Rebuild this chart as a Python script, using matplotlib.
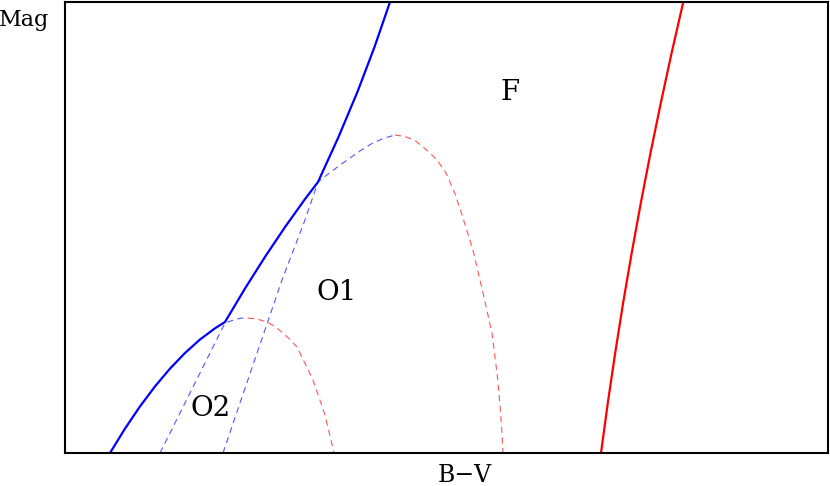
import matplotlib
matplotlib.use('Agg')
import matplotlib.pyplot as plt

# schematic CMD, units are arbitrary (B-V to the right, brighter upward)
env_x = [45, 60, 75, 90, 105, 120, 135, 150, 160, 180, 200, 220, 240, 253,
         273.5, 292.4, 309.5, 325]
env_y = [0, 24.4, 46.6, 66.6, 84.4, 100, 113.5, 124.7, 131, 164.5, 196.1,
         225.9, 253.9, 271, 316, 361, 406, 451]

red_edge_x = [536, 542.8, 550.2, 558.1, 566.7, 575.8, 585.5, 595.8, 606.6, 618.3]
red_edge_y = [0, 50, 100, 150, 200, 250, 300, 350, 400, 451]

o1_blue_x = [158, 175, 217, 240, 253, 265, 280, 295, 307, 318, 330]
o1_blue_y = [0, 50, 173, 233, 271, 280.5, 291.5, 302, 309.5, 314.5, 318]
o1_red_x = [330, 340, 350, 358, 365, 372, 381, 389.7, 396.4, 402.7, 408.7,
            413.3, 418, 422.5, 427, 429.5, 432, 434, 435.6, 437, 438]
o1_red_y = [318, 316.5, 312.5, 306, 300, 293, 280, 260, 240, 220, 200,
            180, 160, 140, 120, 100, 80, 60, 40, 20, 0]

o2_blue_x = [95, 125, 160, 170, 176, 183]
o2_blue_y = [0, 60, 130, 133.5, 134.8, 135]
o2_red_x = [183, 192, 202, 210, 218, 225, 232, 240, 248, 254, 260, 265, 269]
o2_red_y = [135, 134, 131, 126.5, 120, 113.5, 106, 89.5, 73, 55.5, 38, 17, 0]

labels = ['F', 'O1', 'O2']
label_x = [445, 272, 146]
label_y = [360, 161, 45]

plt.rcParams['font.family'] = ['DejaVu Serif']

fig = plt.figure(figsize=(8.3, 4.86), dpi=100)
ax = fig.add_axes([65 / 830, 33 / 486, 763 / 830, 451 / 486])

# thin dashed loops
dash = (5.5, 4)
ax.plot(o1_blue_x, o1_blue_y, color='#5555ff', lw=0.8, dashes=dash)
ax.plot(o1_red_x, o1_red_y, color='#ff5555', lw=0.8, dashes=dash)
ax.plot(o2_blue_x, o2_blue_y, color='#5555ff', lw=0.8, dashes=dash)
ax.plot(o2_red_x, o2_red_y, color='#ff5555', lw=0.8, dashes=dash)

# edges of the strip
ax.plot(env_x, env_y, color='#0000ff', lw=1.6)
ax.plot(red_edge_x, red_edge_y, color='#ff0000', lw=1.6)

for t, x, y in zip(labels, label_x, label_y):
    ax.text(x, y, t, fontsize=20, ha='center', va='center')

ax.set_xlim(0, 763)
ax.set_ylim(0, 451)
ax.set_xticks([])
ax.set_yticks([])
for s in ax.spines.values():
    s.set_linewidth(1.5)

fig.text(24 / 830, 1 - 20 / 486, 'Mag', fontsize=16, ha='center', va='center')
fig.text(465 / 830, 1 - 475 / 486, 'B\u2212V', fontsize=17, ha='center', va='center')

fig.savefig('out.png', dpi=100)
